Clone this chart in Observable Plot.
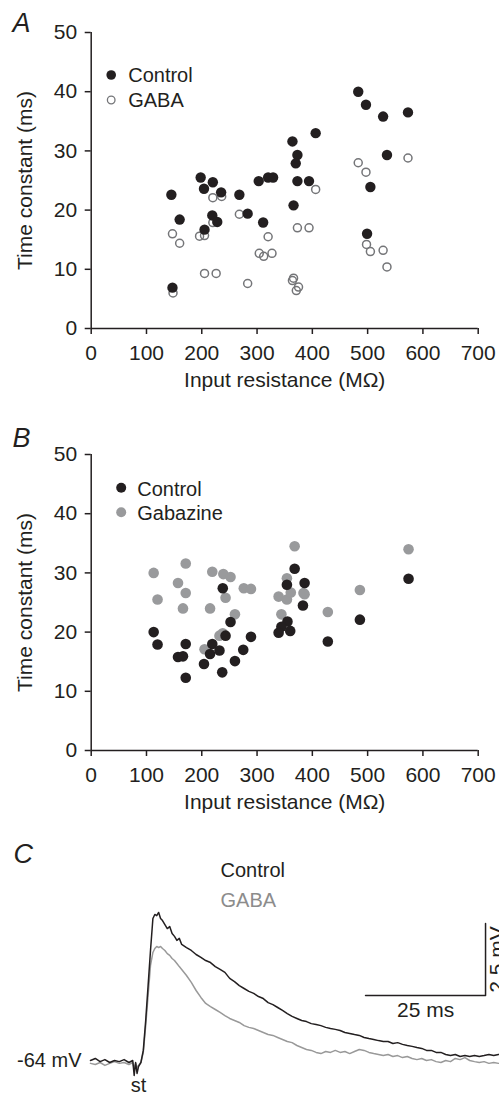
<!DOCTYPE html>
<html>
<head>
<meta charset="utf-8">
<script src="https://cdn.jsdelivr.net/npm/d3@7"></script>
<script src="https://cdn.jsdelivr.net/npm/@observablehq/plot@0.6"></script>
<style>
  html, body { margin: 0; padding: 0; background: #fff; }
  #page { position: relative; width: 499px; height: 1096px; overflow: hidden; background: #fff; }
  #page svg { position: absolute; left: 0; }
</style>
</head>
<body>
<div id="page"></div>
<script>
// ---------- shared tick labels ----------
const xTicks = [0, 100, 200, 300, 400, 500, 600, 700];
const yTicks = [0, 10, 20, 30, 40, 50];
const xLabel = "Input resistance (MΩ)";
const yLabel = "Time constant (ms)";

// ---------- Panel A : Control vs GABA ----------
const controlA_R   = [145,160,147,198,204,220,235,219,228,205,268,283,303,311,320,329,364,373,370,373,366,394,406,483,497,528,573,535,505,499];
const controlA_Tau = [22.6,18.4,6.9,25.5,23.6,24.7,23.0,19.1,18.0,16.7,22.6,19.4,24.9,17.9,25.5,25.5,31.6,29.3,27.9,24.9,20.8,24.9,33.0,40.0,37.8,35.8,36.5,29.3,23.9,16.0];
const gabaA_R      = [147,160,148,196,205,205,226,220,236,220,268,283,304,312,327,320,364,366,375,371,373,394,406,483,497,573,498,505,528,535];
const gabaA_Tau    = [16.0,14.4,6.0,15.6,15.7,9.3,9.3,22.1,22.3,17.9,19.3,7.6,12.7,12.2,12.7,15.5,8.1,8.5,7.0,6.4,17.0,17.0,23.5,28.0,26.4,28.8,14.2,13.0,13.2,10.4];

// ---------- Panel B : Control vs Gabazine ----------
const gabazineB_R   = [113,171,157,171,120,166,219,239,252,215,243,260,276,289,238,232,205,354,368,339,354,361,384,344,428,486,574,386];
const gabazineB_Tau = [30.0,31.6,28.3,26.6,25.5,24.0,30.2,29.8,29.3,24.0,25.8,23.0,27.4,27.3,19.8,19.4,17.1,29.1,34.5,26.0,25.5,26.7,26.6,23.0,23.4,27.1,34.0,26.4];
const controlB_R    = [113,120,171,157,166,171,238,252,243,219,232,215,204,237,260,275,289,368,354,386,383,355,344,339,360,428,486,574];
const controlB_Tau  = [20.0,17.9,18.0,15.8,15.9,12.3,27.4,21.7,19.4,18.0,16.9,16.3,14.6,13.2,15.1,17.0,19.2,30.7,28.0,28.3,24.5,21.8,20.9,19.9,20.2,18.4,22.1,29.0];

// ---------- Panel C : voltage traces (ms from stimulus, mV above -64 mV) ----------
const traceTime = [-10,-9,-8,-7,-6,-5,-4,-3,-2,-1.2,-0.9,-0.6,-0.3,0,0.5,1,1.5,2,2.5,3,3.4,3.8,4.2,4.6,5,5.5,6,6.5,7,7.5,8,8.5,9,
  10,11,12,13,14,15,16,17,18,19,20,21,22,23,24,25,26,27,28,29,30,31,32,33,34,35,36,37,38,39,40,41,42,43,44,45,46,47,48,49,50,
  51,52,53,54,55,56,57,58,59,60,61,62,63,64,65,66,67,68,69,70,71,72,73,74,75];
const controlTrace = [0.07,0.14,0.03,0.10,0.00,0.07,0.03,0.10,0.00,0.07,-0.45,0.00,-0.38,-0.14,0.00,0.42,1.46,2.67,3.89,5.00,5.14,5.10,5.21,5.00,4.93,4.79,4.65,4.72,4.48,4.38,4.24,4.31,4.10,
  3.99,3.89,3.75,3.65,3.54,3.47,3.33,3.23,3.13,2.92,2.81,2.67,2.57,2.47,2.40,2.29,2.22,2.08,2.01,1.91,1.81,1.70,1.60,1.53,1.46,1.42,1.35,1.32,1.28,1.22,1.18,1.15,1.11,1.04,1.01,0.97,0.94,0.87,0.83,0.80,0.76,
  0.73,0.73,0.66,0.69,0.63,0.59,0.56,0.52,0.49,0.42,0.42,0.35,0.35,0.28,0.24,0.28,0.21,0.24,0.21,0.24,0.21,0.24,0.28,0.24,0.28];
const gabaTrace = [-0.03,-0.07,0.00,-0.10,-0.03,0.03,-0.03,0.00,-0.07,0.00,-0.21,-0.03,-0.17,-0.10,0.00,0.35,1.28,2.33,3.37,3.82,3.96,4.03,3.99,4.03,3.96,3.89,3.78,3.72,3.61,3.54,3.44,3.33,3.23,
  3.02,2.78,2.50,2.26,2.05,1.94,1.84,1.74,1.63,1.53,1.46,1.39,1.28,1.22,1.18,1.11,1.04,0.97,0.94,0.87,0.80,0.73,0.69,0.59,0.52,0.45,0.42,0.35,0.31,0.38,0.35,0.42,0.35,0.38,0.31,0.38,0.45,0.42,0.35,0.31,0.28,
  0.24,0.28,0.21,0.24,0.17,0.21,0.14,0.10,0.14,0.07,0.10,0.03,0.00,0.07,0.03,0.14,0.10,0.17,0.07,0.03,0.00,0.03,-0.03,0.00,-0.03];
const baselineLabel = "-64 mV";
const scaleMs = 25, scaleMv = 2.5;

// ---------- styling ----------
const FONT = '"Liberation Sans", Arial, Helvetica, sans-serif';
const INK = "#231f20";
const GREY_OPEN = "#747578";
const GREY_FILL = "#999a9c";
const GREY_TRACE = "#999999";
const page = document.getElementById("page");

function scatter({top, height, marginTop, letter, letterDy, series, legend}) {
  const frameH = 296;
  const marks = [
    Plot.axisX({ticks: xTicks, tickSize: 6, tickPadding: 11, label: null, stroke: INK, strokeWidth: 1.5, fill: INK, fontSize: 21}),
    Plot.axisY({ticks: yTicks, tickSize: 6, tickPadding: 8, label: null, stroke: INK, strokeWidth: 1.5, fill: INK, fontSize: 21}),
    Plot.ruleY([0], {stroke: INK, strokeWidth: 1.5}),
    Plot.ruleX([0], {stroke: INK, strokeWidth: 1.5}),
    ...series.map(s => Plot.dot(s.x, {x: s.x, y: s.y, r: s.r, fill: s.fill, stroke: s.stroke, strokeWidth: s.sw})),
    Plot.text([yLabel], {text: d => d, frameAnchor: "left", dx: -58.7, rotate: -90, textAnchor: "middle", lineAnchor: "bottom", fontSize: 21, fill: INK}),
    Plot.text([xLabel], {text: d => d, frameAnchor: "bottom", dy: 58, textAnchor: "middle", lineAnchor: "bottom", fontSize: 21, fill: INK}),
    Plot.text([letter], {text: d => d, frameAnchor: "top-left", dx: -78.7, dy: letterDy, lineAnchor: "bottom", textAnchor: "start", fontSize: 27, fontStyle: "italic", fill: INK})
  ];
  legend.forEach(l => {
    marks.push(Plot.dot([l.label], {frameAnchor: "top-left", dx: l.dx, dy: l.dy, r: l.r, fill: l.fill, stroke: l.stroke, strokeWidth: l.sw}));
    marks.push(Plot.text([l.label], {text: d => d, frameAnchor: "top-left", dx: l.tx, dy: l.ty, lineAnchor: "bottom", textAnchor: "start", fontSize: 20, fill: INK}));
  });
  const svg = Plot.plot({
    width: 499, height,
    marginLeft: 90.7, marginRight: 21.3, marginTop, marginBottom: height - marginTop - frameH,
    x: {domain: [0, 700]},
    y: {domain: [0, 50]},
    style: {fontFamily: FONT, fontSize: "21px", color: INK, background: "transparent", overflow: "visible"},
    marks
  });
  svg.style.top = top + "px";
  page.appendChild(svg);
}

scatter({
  top: 0, height: 400, marginTop: 32, letter: "A", letterDy: -1,
  series: [
    {x: gabaA_R, y: gabaA_Tau, r: 4, fill: "none", stroke: GREY_OPEN, sw: 1.5},
    {x: controlA_R, y: controlA_Tau, r: 5.2, fill: INK, stroke: "none", sw: 0}
  ],
  legend: [
    {label: "Control", dx: 20, dy: 42.5, r: 4.8, fill: INK, stroke: "none", sw: 0, tx: 37, ty: 49.5},
    {label: "GABA", dx: 20, dy: 67.5, r: 3.8, fill: "none", stroke: GREY_OPEN, sw: 1.3, tx: 37, ty: 74.5}
  ]
});

scatter({
  top: 400, height: 430, marginTop: 54, letter: "B", letterDy: -8,
  series: [
    {x: gabazineB_R, y: gabazineB_Tau, r: 5.3, fill: GREY_FILL, stroke: "none", sw: 0},
    {x: controlB_R, y: controlB_Tau, r: 5.3, fill: INK, stroke: "none", sw: 0}
  ],
  legend: [
    {label: "Control", dx: 30, dy: 33.3, r: 5, fill: INK, stroke: "none", sw: 0, tx: 46, ty: 41},
    {label: "Gabazine", dx: 30, dy: 57.7, r: 5, fill: GREY_FILL, stroke: "none", sw: 0, tx: 46, ty: 65.5}
  ]
});

// ---------- Panel C ----------
(function () {
  const H = 266;
  const pxPerMs = 4.8, pxPerMv = 28.8, stimX = 138, baseY = 232;
  const barT = 72.3, barV = 2.33;
  const svg = Plot.plot({
    width: 499, height: H,
    marginLeft: 0, marginRight: 0, marginTop: 0, marginBottom: 0,
    x: {domain: [-stimX / pxPerMs, (499 - stimX) / pxPerMs], axis: null},
    y: {domain: [-(H - baseY) / pxPerMv, baseY / pxPerMv], axis: null},
    style: {fontFamily: FONT, fontSize: "21px", color: INK, background: "transparent", overflow: "hidden"},
    marks: [
      Plot.line(traceTime, {x: traceTime, y: gabaTrace, stroke: GREY_TRACE, strokeWidth: 1.5}),
      Plot.line(traceTime, {x: traceTime, y: controlTrace, stroke: INK, strokeWidth: 1.5}),
      Plot.line([[barT - scaleMs, barV], [barT, barV], [barT, barV + scaleMv]], {x: d => d[0], y: d => d[1], stroke: INK, strokeWidth: 1.5}),
      Plot.text([scaleMs + " ms"], {text: d => d, x: barT - scaleMs / 2, y: barV, dy: 22, lineAnchor: "bottom", fontSize: 21, fill: INK}),
      Plot.text([scaleMv + " mV"], {text: d => d, x: barT, y: barV + scaleMv / 2, dx: 18, rotate: -90, lineAnchor: "bottom", fontSize: 21, fill: INK}),
      Plot.text([baselineLabel], {text: d => d, x: traceTime[0], y: 0, dx: -9, dy: 4.7, textAnchor: "end", lineAnchor: "bottom", fontSize: 20, fill: INK}),
      Plot.text(["st"], {text: d => d, x: 0, y: 0, dy: 29, lineAnchor: "bottom", fontSize: 20, fill: INK}),
      Plot.text(["Control"], {text: d => d, frameAnchor: "top-left", dx: 220, dy: 46.5, textAnchor: "start", lineAnchor: "bottom", fontSize: 20, fill: INK}),
      Plot.text(["GABA"], {text: d => d, frameAnchor: "top-left", dx: 220, dy: 76.5, textAnchor: "start", lineAnchor: "bottom", fontSize: 20, fill: "#8c8c8c"}),
      Plot.text(["C"], {text: d => d, frameAnchor: "top-left", dx: 13, dy: 32, textAnchor: "start", lineAnchor: "bottom", fontSize: 27, fontStyle: "italic", fill: INK})
    ]
  });
  svg.style.top = "830px";
  page.appendChild(svg);
})();
</script>
</body>
</html>
